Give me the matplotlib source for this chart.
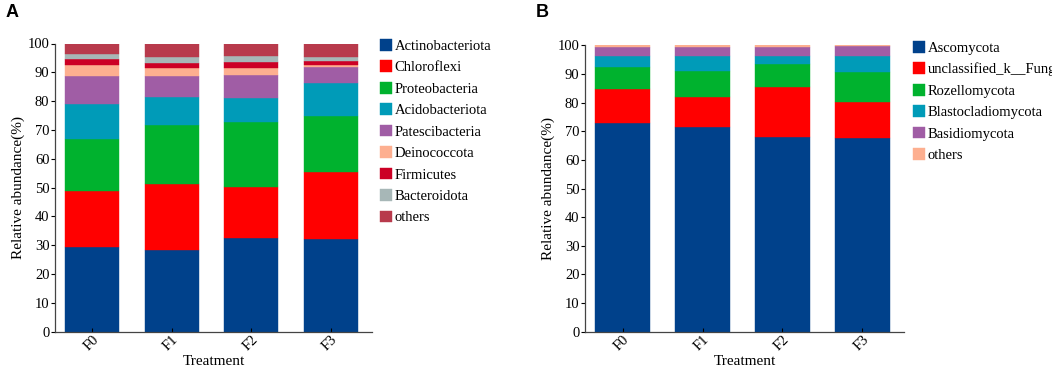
"""Stacked relative-abundance bars: bacterial phyla (A) and fungal phyla (B)."""
import matplotlib
matplotlib.use("Agg")
import matplotlib.pyplot as plt
import numpy as np

# ---------------------------------------------------------------------------
# Data (relative abundance, %)
# ---------------------------------------------------------------------------
treatments = ["F0", "F1", "F2", "F3"]

bact_taxa = ["Actinobacteriota", "Chloroflexi", "Proteobacteria",
             "Acidobacteriota", "Patescibacteria", "Deinococcota",
             "Firmicutes", "Bacteroidota", "others"]
actinobacteriota = [29.4, 28.3, 32.6, 32.3]
chloroflexi = [19.4, 23.1, 17.5, 23.2]
proteobacteria = [18.1, 20.4, 22.5, 19.4]
acidobacteriota = [12.1, 9.5, 8.4, 11.5]
patescibacteria = [9.6, 7.5, 8.1, 5.5]
deinococcota = [3.8, 2.6, 2.3, 0.8]
firmicutes = [2.1, 2.0, 2.3, 1.1]
bacteroidota = [1.8, 1.9, 1.8, 1.5]
bact_others = [3.7, 4.7, 4.5, 4.7]
bact_values = [actinobacteriota, chloroflexi, proteobacteria, acidobacteriota,
               patescibacteria, deinococcota, firmicutes, bacteroidota,
               bact_others]

fung_taxa = ["Ascomycota", "unclassified_k__Fungi", "Rozellomycota",
             "Blastocladiomycota", "Basidiomycota", "others"]
ascomycota = [72.8, 71.5, 68.0, 67.7]
unclassified_fungi = [12.0, 10.6, 17.5, 12.6]
rozellomycota = [7.6, 8.9, 7.9, 10.5]
blastocladiomycota = [4.0, 5.4, 2.9, 5.6]
basidiomycota = [3.1, 2.9, 3.0, 3.4]
fung_others = [0.5, 0.7, 0.7, 0.2]
fung_values = [ascomycota, unclassified_fungi, rozellomycota,
               blastocladiomycota, basidiomycota, fung_others]

# ---------------------------------------------------------------------------
# Style
# ---------------------------------------------------------------------------
BACT_COLORS = ["#00418B", "#FF0000", "#00B22E", "#009BB8", "#A05DA5",
               "#FDAF90", "#CC0025", "#A7B7B7", "#B83A4C"]
FUNG_COLORS = ["#00418B", "#FF0000", "#00B22E", "#009BB8", "#A05DA5",
               "#FDAF90"]

plt.rcParams.update({
    "font.family": ["Liberation Serif", "DejaVu Serif"],
    "font.size": 10,
})


def stacked(ax, values, colors, labels):
    x = np.arange(len(treatments))
    bottom = np.zeros(len(treatments))
    handles = []
    for vals, col, lab in zip(values, colors, labels):
        vals = np.asarray(vals)
        h = ax.bar(x, vals, bottom=bottom, width=0.68, color=col,
                   edgecolor=col, linewidth=0.3, label=lab)
        handles.append(h)
        bottom += vals
    ax.set_xlim(-0.47, 3.52)
    ax.set_ylim(0, 100)
    ax.set_yticks(np.arange(0, 101, 10))
    ax.set_xticks(x)
    ax.set_xticklabels(treatments, rotation=45, ha="right",
                       rotation_mode="anchor")
    ax.tick_params(axis="y", direction="out", length=3, width=0.8,
                   labelsize=10.5, pad=1)
    ax.tick_params(axis="x", direction="in", length=3, width=0.8,
                   labelsize=10.5, pad=1)
    ax.spines["top"].set_visible(False)
    ax.spines["right"].set_visible(False)
    for s in ("left", "bottom"):
        ax.spines[s].set_color("#444444")
        ax.spines[s].set_linewidth(0.9)
    ax.set_xlabel("Treatment", fontsize=11)
    ax.xaxis.set_label_coords(0.5, -0.082)
    ax.set_ylabel("Relative abundance(%)", fontsize=11, labelpad=2)
    return handles


fig = plt.figure(figsize=(10.52, 3.68), dpi=100)
ax_a = fig.add_axes([55 / 1052, 36.3 / 368, 317 / 1052, 288.2 / 368])
ax_b = fig.add_axes([585 / 1052, 36.3 / 368, 319 / 1052, 286.4 / 368])

ha = stacked(ax_a, bact_values, BACT_COLORS, bact_taxa)
hb = stacked(ax_b, fung_values, FUNG_COLORS, fung_taxa)

leg_kw = dict(frameon=False, handlelength=0.85, handleheight=0.85,
              handletextpad=0.15, labelspacing=0.52, fontsize=10.5,
              borderaxespad=0, borderpad=0)
fig.legend(handles=ha, labels=bact_taxa, loc="upper left",
           bbox_to_anchor=(380 / 1052, 1 - 39 / 368), **leg_kw)
fig.legend(handles=hb, labels=fung_taxa, loc="upper left",
           bbox_to_anchor=(913 / 1052, 1 - 41 / 368), **leg_kw)

fig.text(6 / 1052, 1 - 4 / 368, "A", fontsize=13, fontweight="bold",
         family=["Liberation Sans", "DejaVu Sans"], va="top", ha="left")
fig.text(536 / 1052, 1 - 4 / 368, "B", fontsize=13, fontweight="bold",
         family=["Liberation Sans", "DejaVu Sans"], va="top", ha="left")

fig.savefig("out.png", dpi=100)
